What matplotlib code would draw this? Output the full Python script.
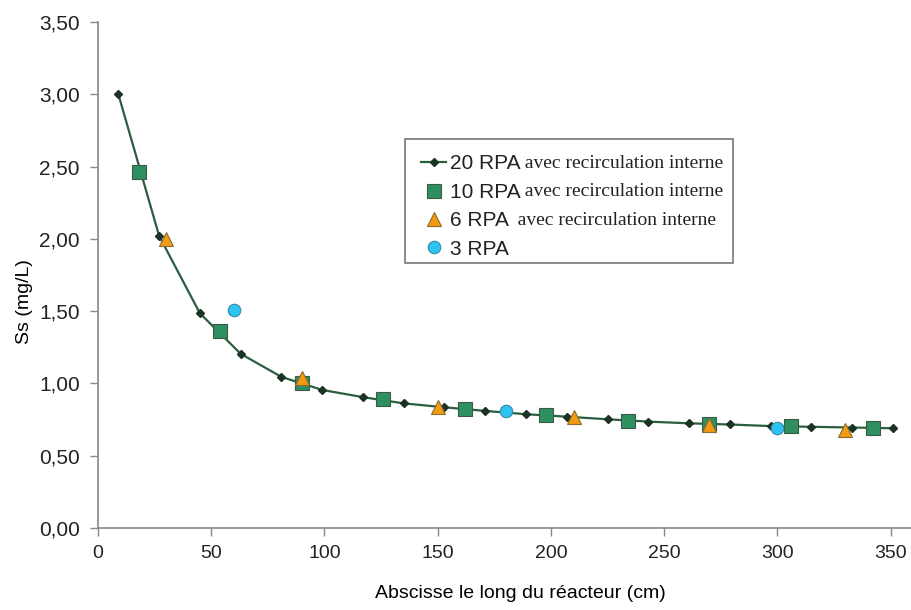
import numpy as np
import matplotlib.pyplot as plt
import matplotlib
from matplotlib.patches import Rectangle
from matplotlib.ticker import FuncFormatter

# data (x in cm, Ss in mg/L)
x20 = [9, 27, 45, 63, 81, 99, 117, 135, 153, 171, 189, 207, 225, 243, 261, 279, 297, 315, 333, 351]
y20 = [3.00, 2.02, 1.485, 1.205, 1.045, 0.955, 0.905, 0.862, 0.835, 0.81, 0.787, 0.77, 0.752, 0.736,
       0.724, 0.716, 0.705, 0.70, 0.695, 0.69]
x10 = [18, 54, 90, 126, 162, 198, 234, 270, 306, 342]
y10 = [2.465, 1.365, 1.00, 0.89, 0.826, 0.78, 0.742, 0.717, 0.703, 0.69]
x6 = [30, 90, 150, 210, 270, 330]
y6 = [2.00, 1.04, 0.84, 0.765, 0.715, 0.68]
x3 = [60, 180, 300]
y3 = [1.505, 0.81, 0.69]

labels = ['20 RPA', '10 RPA', '6 RPA', '3 RPA']
extras = [' avec recirculation interne', ' avec recirculation interne', '  avec recirculation interne', '']

matplotlib.rcParams.update({
    'font.family': ['Liberation Sans', 'DejaVu Sans'],
    'font.size': 14,
    'text.color': '#222222',
    'xtick.color': '#888888',
    'ytick.color': '#888888',
    'xtick.labelcolor': '#222222',
    'ytick.labelcolor': '#222222',
})

fig = plt.figure(figsize=(9.12, 6.10), dpi=100)
ax = fig.add_axes([98/912, 82/610, 813/912, 506/610])

l20, = ax.plot(x20, y20, color='#2b5e3f', lw=1.6, marker='D', ms=4.5,
               mfc='#1b3324', mec='#1b3324', zorder=3)
l10, = ax.plot(x10, y10, ls='none', marker='s', ms=10, mfc='#2e9060', mec='#3a5a45', mew=0.8, zorder=4)
l6, = ax.plot(x6, y6, ls='none', marker='^', ms=10, mfc='#f39a12', mec='#8a6a30', mew=0.8, zorder=5)
l3, = ax.plot(x3, y3, ls='none', marker='o', ms=9, mfc='#2cc4f2', mec='#3a8aa8', mew=0.8, zorder=5)

ax.set_xlim(0, 359)
ax.set_ylim(0, 3.5)
ax.set_xticks(np.arange(0, 351, 50))
ax.set_yticks(np.arange(0, 3.51, 0.5))
ax.yaxis.set_major_formatter(FuncFormatter(lambda v, p: ('%.2f' % v).replace('.', ',')))
ax.tick_params(length=6, width=1, pad=6)
ax.tick_params(axis='y', labelsize=15, pad=7)

for s in ['top', 'right']:
    ax.spines[s].set_visible(False)
for s in ['left', 'bottom']:
    ax.spines[s].set_color('#888888')
    ax.spines[s].set_linewidth(1.2)

ax.set_ylabel('Ss (mg/L)')
ax.yaxis.set_label_coords(-0.08, 0.447)
ax.set_xlabel('Abscisse le long du réacteur (cm)')
ax.xaxis.set_label_coords(0.52, -0.112)

leg = ax.legend([l20, l10, l6, l3], labels, loc='upper left',
                bbox_to_anchor=((411 - 98) / 813, (528 - 144) / 506),
                frameon=False, borderpad=0, numpoints=1, handlelength=1.2,
                handletextpad=0.15, labelspacing=0.45, fontsize=15)
fig.canvas.draw()
for t, e in zip(leg.get_texts(), extras):
    if e:
        ax.annotate(e, xy=(1, 0.08), xycoords=t, va='bottom', ha='left',
                    fontfamily='Liberation Serif', fontsize=14)

ax.add_patch(Rectangle(((405 - 98) / 813, (528 - 263) / 506), (733 - 405) / 813, (263 - 139) / 506,
                       transform=ax.transAxes, fill=False, ec='#777777', lw=1.2, zorder=6))

fig.savefig('out.png', dpi=100)
